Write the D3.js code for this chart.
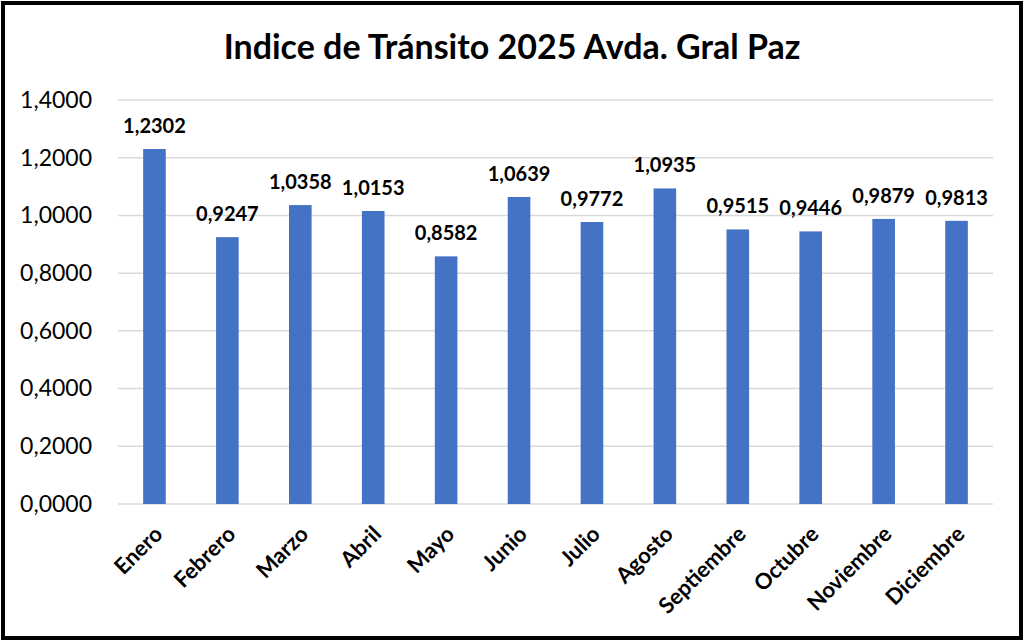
<!DOCTYPE html>
<html>
<head>
<meta charset="utf-8">
<script src="https://cdn.jsdelivr.net/npm/d3@7"></script>
<style>
  body { margin: 0; background: #fff; }
  svg { display: block; font-family: Lato, "Open Sans", sans-serif; }
</style>
</head>
<body>
<div id="container"></div>
<script>
/* DATA */
const months = ["Enero","Febrero","Marzo","Abril","Mayo","Junio","Julio","Agosto",
                "Septiembre","Octubre","Noviembre","Diciembre"];
const values = [1.2302, 0.9247, 1.0358, 1.0153, 0.8582, 1.0639, 0.9772, 1.0935,
                0.9515, 0.9446, 0.9879, 0.9813];
const yTicks = [0, 0.2, 0.4, 0.6, 0.8, 1.0, 1.2, 1.4];
const title = "Indice de Tránsito 2025 Avda. Gral Paz";

/* CONSTANTS */
const width = 1024, height = 641;
const margin = {top: 100, bottom: 137, left: 118, right: 31};

const fmt = d => d.toFixed(4).replace(".", ",");

const svg = d3.select("#container").append("svg")
  .attr("width", width)
  .attr("height", height);

// outer border
svg.append("rect")
  .attr("x", 3).attr("y", 3)
  .attr("width", width - 6).attr("height", height - 6)
  .attr("fill", "#fff")
  .attr("stroke", "#000")
  .attr("stroke-width", 4);

// + SCALES
const xScale = d3.scaleBand()
  .domain(months)
  .range([margin.left, width - margin.right])
  .paddingInner(0.69)
  .paddingOuter(0.345);

const yScale = d3.scaleLinear()
  .domain([0, 1.4])
  .range([height - margin.bottom, margin.top]);

// gridlines
svg.append("g")
  .selectAll("line")
  .data(yTicks)
  .join("line")
  .attr("x1", margin.left)
  .attr("x2", width - margin.right)
  .attr("y1", d => yScale(d))
  .attr("y2", d => yScale(d))
  .attr("stroke", "#d9d9d9")
  .attr("stroke-width", 1.5);

// y axis
const yAxis = d3.axisLeft(yScale)
  .tickValues(yTicks)
  .tickFormat(fmt)
  .tickSize(0)
  .tickPadding(26);

svg.append("g")
  .attr("transform", `translate(${margin.left},0)`)
  .call(yAxis)
  .call(g => g.select(".domain").remove())
  .selectAll("text")
  .attr("font-size", "23px")
  .attr("fill", "#000")
  .attr("font-family", "Lato, 'Open Sans', sans-serif");

// bars
svg.append("g")
  .selectAll("rect")
  .data(months)
  .join("rect")
  .attr("x", d => xScale(d))
  .attr("width", xScale.bandwidth())
  .attr("y", (d, i) => yScale(values[i]))
  .attr("height", (d, i) => yScale(0) - yScale(values[i]))
  .attr("fill", "#4472c4");

// value labels
svg.append("g")
  .selectAll("text")
  .data(months)
  .join("text")
  .attr("x", d => xScale(d) + xScale.bandwidth() / 2)
  .attr("y", (d, i) => yScale(values[i]) - 16)
  .attr("text-anchor", "middle")
  .attr("font-size", "20px")
  .attr("font-weight", "bold")
  .text((d, i) => fmt(values[i]));

// x axis
const xAxis = d3.axisBottom(xScale).tickSize(0).tickPadding(0);
svg.append("g")
  .attr("transform", `translate(0,${height - margin.bottom})`)
  .call(xAxis)
  .call(g => g.select(".domain").remove())
  .selectAll("text")
  .attr("font-size", "22px")
  .attr("font-weight", "bold")
  .attr("fill", "#000")
  .attr("font-family", "Lato, 'Open Sans', sans-serif")
  .attr("text-anchor", "end")
  .attr("dy", "0.35em")
  .attr("transform", "translate(4,26) rotate(-45)");

// title
svg.append("text")
  .attr("x", width / 2)
  .attr("y", 59)
  .attr("text-anchor", "middle")
  .attr("font-size", "34px")
  .attr("font-weight", "bold")
  .text(title);
</script>
</body>
</html>
